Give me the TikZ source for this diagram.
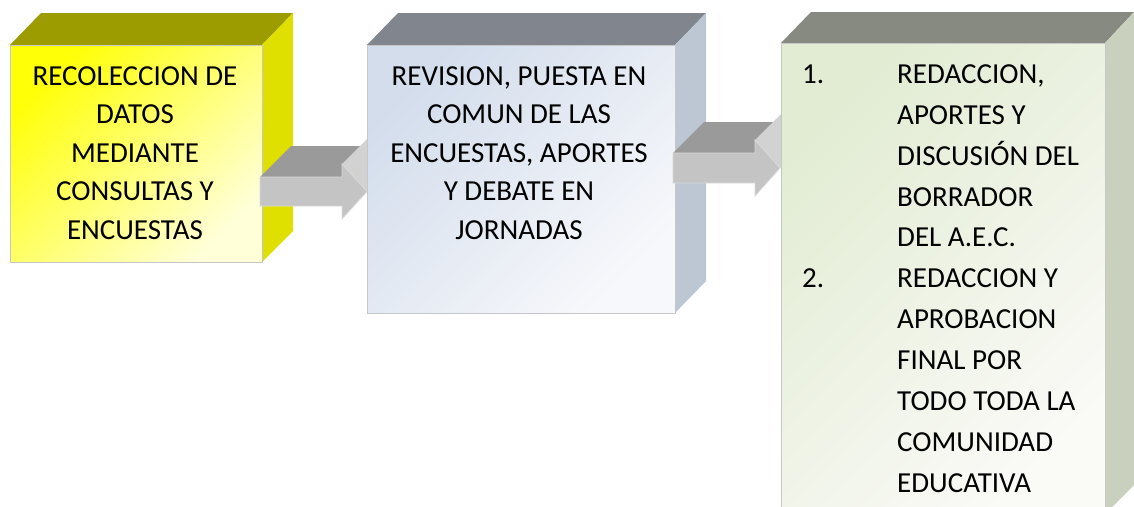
\documentclass[tikz,border=0pt]{standalone}
\usepackage{fontspec}
\setmainfont{Carlito}
\definecolor{yfrontA}{HTML}{FFFF08}
\definecolor{yfrontB}{HTML}{FFFFD8}
\definecolor{ytop}{HTML}{9C9C00}
\definecolor{yside}{HTML}{E0E000}
\definecolor{bfrontA}{HTML}{D3DDEC}
\definecolor{bfrontB}{HTML}{F7F8FB}
\definecolor{btop}{HTML}{80858E}
\definecolor{bside}{HTML}{BCC7D3}
\definecolor{gfrontA}{HTML}{E2ECD3}
\definecolor{gfrontB}{HTML}{FAFAF7}
\definecolor{gtop}{HTML}{878A81}
\definecolor{gside}{HTML}{C9D1BE}
\definecolor{arrfront}{HTML}{C4C4C4}
\definecolor{arrtop}{HTML}{9A9A9A}
\definecolor{arrhead}{HTML}{D2D2D2}
\definecolor{arredge}{HTML}{DADADA}
\tikzset{
  frontedge/.style={draw=black!22, line width=0.8pt},
  txt/.style={inner sep=0pt, anchor=north, font=\fontsize{29}{38.5}\selectfont},
  txtlist/.style={inner sep=0pt, anchor=north west, font=\fontsize{29}{40.9}\selectfont},
}
\begin{document}
\begin{tikzpicture}[x=1pt,y=-1pt]
\useasboundingbox (0,0) rectangle (1134,506);

% ---- box 1 (yellow)
\fill[ytop] (10,45) -- (41,13) -- (293,13) -- (262,45) -- cycle;
\fill[yside] (262,45) -- (293,13) -- (293,231) -- (262,262) -- cycle;
\shade[top color=yfrontA, bottom color=yfrontB, shading angle=45] (10,45) rectangle (262,262);
\draw[frontedge] (10,45) rectangle (262,262);
\node[txt] (t1) at (135,58) {\begin{tabular}{@{}c@{}}RECOLECCION DE\\ DATOS\\ MEDIANTE\\ CONSULTAS Y\\ ENCUESTAS\end{tabular}};

% ---- arrow 1
\fill[arrtop] (260,177) -- (342,177) -- (373,146) -- (291,146) -- cycle;
\fill[arrhead] (342,164) -- (367,191.5) -- (398,160.5) -- (373,133) -- cycle;
\fill[arrfront, draw=arredge, line width=0.8pt] (260,177) -- (342,177) -- (342,164) -- (367,191.5) -- (342,219) -- (342,206) -- (260,206) -- cycle;

% ---- box 2 (blue-grey)
\fill[btop] (367,45) -- (398,13) -- (706,13) -- (675,45) -- cycle;
\fill[bside] (675,45) -- (706,13) -- (706,281) -- (675,313) -- cycle;
\shade[top color=bfrontA, bottom color=bfrontB, shading angle=45] (367,45) rectangle (675,313);
\draw[frontedge] (367,45) rectangle (675,313);
\node[txt] (t2) at (519,58) {\begin{tabular}{@{}c@{}}REVISION, PUESTA EN\\ COMUN DE LAS\\ ENCUESTAS, APORTES\\ Y DEBATE EN\\ JORNADAS\end{tabular}};

% ---- arrow 2
\fill[arrtop] (673,153) -- (755,153) -- (786,122) -- (704,122) -- cycle;
\fill[arrhead] (755,140) -- (780,168) -- (811,137) -- (786,109) -- cycle;
\fill[arrfront, draw=arredge, line width=0.8pt] (673,153) -- (755,153) -- (755,140) -- (780,168) -- (755,196) -- (755,183) -- (673,183) -- cycle;

% ---- box 3 (green)
\fill[gtop] (781,43) -- (811,12) -- (1134,12) -- (1105,43) -- cycle;
\fill[gside] (1105,43) -- (1134,12) -- (1134,485) -- (1105,514) -- cycle;
\shade[top color=gfrontA, bottom color=gfrontB, shading angle=45] (781,43) rectangle (1105,520);
\draw[frontedge] (781,520) -- (781,43) -- (1105,43) -- (1105,520);
\node[txtlist] (t3) at (802,54.5) {\begin{tabular}{@{}p{95pt}@{}l@{}}1. & REDACCION,\\ & APORTES Y\\ & DISCUSIÓN DEL\\ & BORRADOR\\ & DEL A.E.C.\\ 2. & REDACCION Y\\ & APROBACION\\ & FINAL POR\\ & TODO TODA LA\\ & COMUNIDAD\\ & EDUCATIVA\end{tabular}};
\end{tikzpicture}
\end{document}
